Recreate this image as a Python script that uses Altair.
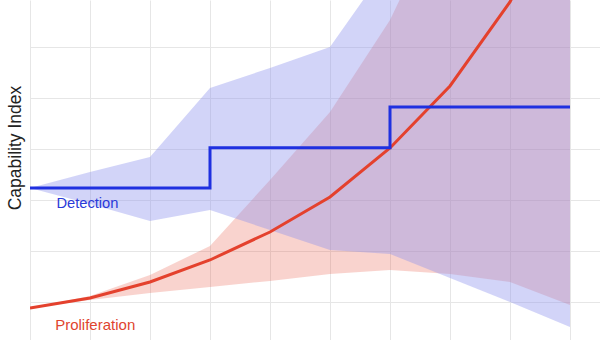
import altair as alt
import pandas as pd

# time steps (equally spaced)
steps = [0, 1, 2, 3, 4, 5, 6, 7, 8, 9]

# Detection capability (step line) and its uncertainty band
detection = [2.24, 2.24, 2.24, 3.03, 3.03, 3.03, 3.83, 3.83, 3.83, 3.83]
detection_lo = [2.24, 1.925, 1.591, 1.807, 1.415, 1.022, 0.943, 0.472, 0.0, -0.491]
detection_hi = [2.24, 2.554, 2.849, 4.204, 4.597, 5.010, 6.68, 8.0, 9.0, 10.0]

# Proliferation capability (curve) and its uncertainty band
proliferation = [-0.118, 0.079, 0.393, 0.825, 1.375, 2.063, 3.026, 4.244, 5.894, 8.29]
proliferation_lo = [-0.118, 0.039, 0.177, 0.295, 0.413, 0.550, 0.629, 0.550, 0.393, -0.059]
proliferation_hi = [-0.118, 0.118, 0.530, 1.100, 2.397, 3.733, 5.540, 8.0, 10.0, 12.5]

df = pd.DataFrame({
    "x": steps,
    "det": detection, "det_lo": detection_lo, "det_hi": detection_hi,
    "pro": proliferation, "pro_lo": proliferation_lo, "pro_hi": proliferation_hi,
})

det_label = pd.DataFrame({"x": [0.44], "y": [1.847], "text": ["Detection"]})
pro_label = pd.DataFrame({"x": [0.42], "y": [-0.55], "text": ["Proliferation"]})

FONT = "Liberation Sans"
BLUE = "#1f30e0"
RED = "#e4412d"

xscale = alt.Scale(domain=[0, 9.5], nice=False, zero=False)
yscale = alt.Scale(domain=[-0.747, 5.933], nice=False, zero=False)

x_axis = alt.Axis(
    values=[i * 0.5 for i in range(0, 20)],
    grid=True, labels=False, ticks=False, domain=False, title=None,
    gridColor="#e6e6e6", gridWidth=1,
)
y_axis = alt.Axis(
    values=[0, 1, 2, 3, 4, 5],
    grid=True, labels=False, ticks=False, domain=False,
    title="Capability Index", titleFont=FONT, titleFontSize=17.5,
    titleFontWeight="normal", titleColor="#222222",
    titleX=-9.5, titleY=147.5, titleAngle=270, titleAlign="center",
    titleBaseline="alphabetic",
    gridColor="#e6e6e6", gridWidth=1,
)

base = alt.Chart(df)

pro_band = base.mark_area(color="#e8503c", opacity=0.25, clip=True).encode(
    x=alt.X("x:Q", scale=xscale, axis=x_axis),
    y=alt.Y("pro_lo:Q", scale=yscale, axis=y_axis),
    y2="pro_hi:Q",
)
det_band = base.mark_area(color="#8e93ed", opacity=0.4, clip=True).encode(
    x=alt.X("x:Q", scale=xscale),
    y=alt.Y("det_lo:Q", scale=yscale),
    y2="det_hi:Q",
)
pro_line = base.mark_line(color=RED, strokeWidth=3, clip=True).encode(
    x=alt.X("x:Q", scale=xscale),
    y=alt.Y("pro:Q", scale=yscale),
)
det_line = base.mark_line(color=BLUE, strokeWidth=3, interpolate="step-after", clip=True).encode(
    x=alt.X("x:Q", scale=xscale),
    y=alt.Y("det:Q", scale=yscale),
)
det_text = alt.Chart(det_label).mark_text(
    font=FONT, fontSize=14.7, align="left", baseline="alphabetic", color="#2a3ad8"
).encode(
    x=alt.X("x:Q", scale=xscale),
    y=alt.Y("y:Q", scale=yscale),
    text="text:N",
)
pro_text = alt.Chart(pro_label).mark_text(
    font=FONT, fontSize=15, align="left", baseline="alphabetic", color="#e0442f"
).encode(
    x=alt.X("x:Q", scale=xscale),
    y=alt.Y("y:Q", scale=yscale),
    text="text:N",
)

chart = alt.layer(pro_band, det_band, pro_line, det_line, det_text, pro_text).properties(
    width=570, height=340,
    autosize=alt.AutoSizeParams(type="none"),
    padding={"left": 30, "top": 0, "right": 0, "bottom": 0},
    background="white",
).configure_view(strokeWidth=0)

chart.save("out.html", embed_options={"renderer": "svg", "actions": False})
